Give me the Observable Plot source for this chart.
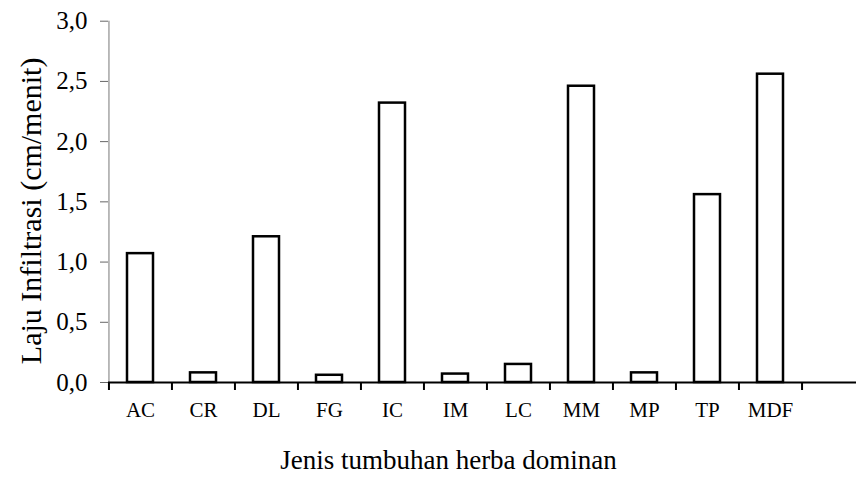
<!DOCTYPE html>
<html>
<head>
<meta charset="utf-8">
<script src="https://cdn.jsdelivr.net/npm/d3@7"></script>
<script src="https://cdn.jsdelivr.net/npm/@observablehq/plot@0.6"></script>
<style>
  html, body { margin: 0; padding: 0; background: #fff; overflow: hidden; }
</style>
</head>
<body>
<div id="chart"></div>
<script>
const categories = ["AC", "CR", "DL", "FG", "IC", "IM", "LC", "MM", "MP", "TP", "MDF"];
const values = [1.07, 0.08, 1.21, 0.06, 2.32, 0.07, 0.15, 2.46, 0.08, 1.56, 2.56];
const yTicks = [0, 0.5, 1, 1.5, 2, 2.5, 3];
const yTitle = "Laju Infiltrasi (cm/menit)";
const xTitle = "Jenis tumbuhan herba dominan";

const data = categories.map((c, i) => ({cat: c, value: values[i]}));

const W = 856, H = 477;
const mL = 108, mT = 20.7, mB = 95;
const xRange = [mL, 802];
const step = (xRange[1] - xRange[0]) / categories.length;
const fmt = d => d.toFixed(1).replace(".", ",");

const chart = Plot.plot({
  width: W,
  height: H,
  marginLeft: mL,
  marginRight: 0,
  marginTop: mT,
  marginBottom: mB,
  style: {fontFamily: "'Liberation Serif', 'Times New Roman', serif", color: "#000", background: "#fff"},
  x: {domain: categories, range: xRange, paddingInner: 0.58, paddingOuter: 0.29, label: null},
  y: {domain: [0, 3], label: null},
  marks: [
    Plot.axisY({ticks: yTicks, tickFormat: fmt, tickSize: 8, tickPadding: 13, fontSize: 25, stroke: "#666", fill: "#000", label: null}),
    Plot.axisX({tickSize: 0, tickPadding: 20, fontSize: 21, fill: "#000", label: null}),
    // y axis line
    Plot.ruleX([categories[0]], {x: d => d, y1: 0, y2: 3, dx: -step / 2, stroke: "#777", strokeWidth: 1}),
    Plot.barY(data, {x: "cat", y: "value", fill: "#fff", stroke: "#000", strokeWidth: 2.5}),
    // x axis line
    Plot.ruleY([0], {stroke: "#000", strokeWidth: 2}),
    // boundary ticks
    Plot.ruleX(categories, {x: d => d, y1: 0, y2: 0, insetBottom: -8, dx: -step / 2, stroke: "#000", strokeWidth: 2}),
    Plot.ruleX([categories[categories.length - 1]], {x: d => d, y1: 0, y2: 0, insetBottom: -8, dx: step / 2, stroke: "#000", strokeWidth: 2}),
    Plot.text([xTitle], {text: d => d, frameAnchor: "bottom", dx: -34, dy: 78, lineAnchor: "middle", fontSize: 27, fill: "#000"}),
    Plot.text([yTitle], {text: d => d, frameAnchor: "left", textAnchor: "middle", dx: -77, dy: 9, rotate: -90, lineAnchor: "middle", fontSize: 30, fill: "#000"})
  ]
});

document.getElementById("chart").appendChild(chart);
</script>
</body>
</html>
